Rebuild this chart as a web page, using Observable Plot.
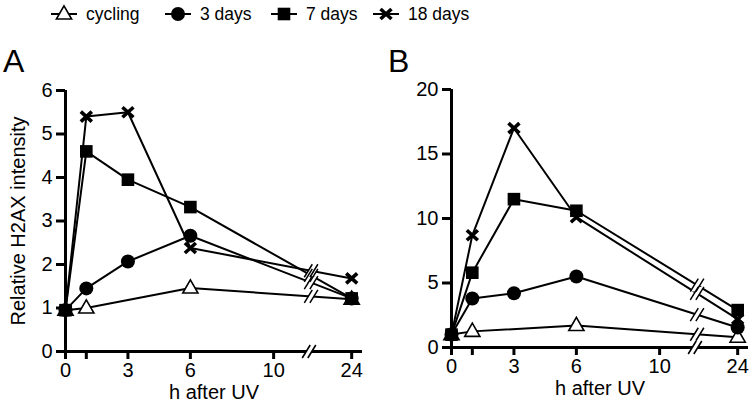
<!DOCTYPE html>
<html><head><meta charset="utf-8">
<script src="https://cdn.jsdelivr.net/npm/d3@7"></script>
<script src="https://cdn.jsdelivr.net/npm/@observablehq/plot@0.6"></script>
<style>
body{margin:0;background:#fff;font-family:"Liberation Sans",Arial,Helvetica,sans-serif;color:#000;}
#wrap{position:relative;width:752px;height:414px;overflow:hidden;background:#fff;}
.panel{position:absolute;top:30px;}
.letter{position:absolute;font-size:32px;line-height:1;}
.leg{position:absolute;top:3px;display:flex;align-items:center;font-size:17.5px;white-space:nowrap;}
.leg svg{margin-right:8px;}
</style></head><body><div id="wrap"></div>
<script>
// ---- data ----
const hours = [0, 1, 3, 6, 24];
const seriesNames = ["cycling", "3 days", "7 days", "18 days"];

const cyclingA = [0.95, 1.0, null, 1.46, 1.2];
const days3A   = [0.95, 1.45, 2.07, 2.66, 1.22];
const days7A   = [0.95, 4.6, 3.95, 3.32, 1.22];
const days18A  = [0.95, 5.4, 5.5, 2.38, 1.68];

const cyclingB = [1.0, 1.25, null, 1.7, 0.8];
const days3B   = [1.0, 3.8, 4.2, 5.5, 1.55];
const days7B   = [1.0, 5.8, 11.5, 10.6, 2.9];
const days18B  = [1.0, 8.7, 17.0, 10.1, 2.2];

const xTicks = [0, 1, 3, 6, 10, 24];
const xTickLabels = ["0", "", "3", "6", "10", "24"];
const yTicksA = [0, 1, 2, 3, 4, 5, 6];
const yTicksB = [0, 5, 10, 15, 20];

// ---- broken x axis: 0..12 linear, then 24 placed after the break ----
const BREAK_AT = 11.8;
const pos = h => (h <= 12 ? h : 13.75);

// ---- symbols ----
const symTri = {draw(c){ c.moveTo(0,-8.2); c.lineTo(7.6,5); c.lineTo(-7.6,5); c.closePath(); }};
const symX = {draw(c){ c.moveTo(-5.5,-5); c.lineTo(5.5,5); c.moveTo(5.5,-5); c.lineTo(-5.5,5); }};
const symSq = {draw(c){ c.rect(-6.3,-6.3,12.6,12.6); }};
const symCirc = {draw(c){ c.moveTo(7,0); c.arc(0,0,7,0,2*Math.PI); }};
const brkFill = {draw(c){ c.moveTo(-6.8,6.5); c.lineTo(1.2,-6.5); c.lineTo(6.8,-6.5); c.lineTo(-1.2,6.5); c.closePath(); }};
const brkLines = {draw(c){ c.moveTo(-6.8,6.5); c.lineTo(1.2,-6.5); c.moveTo(-1.2,6.5); c.lineTo(6.8,-6.5); }};

const styles = {
  "cycling": {symbol: symTri, fill: "white", stroke: "black", strokeWidth: 1.6},
  "3 days":  {symbol: symCirc, fill: "black", stroke: "none"},
  "7 days":  {symbol: symSq, fill: "black", stroke: "none"},
  "18 days": {symbol: symX, fill: "none", stroke: "black", strokeWidth: 3.6}
};

function rowsFor(arrs) {
  const rows = [];
  arrs.forEach((arr, si) => arr.forEach((v, i) => {
    if (v != null) rows.push({series: seriesNames[si], h: hours[i], x: pos(hours[i]), y: v});
  }));
  return rows;
}
function breaksFor(rows) {
  const out = [];
  for (const s of seriesNames) {
    const a = rows.find(r => r.series === s && r.h === 6);
    const b = rows.find(r => r.series === s && r.h === 24);
    if (a && b) out.push({x: BREAK_AT, y: a.y + (b.y - a.y) * (BREAK_AT - a.x) / (b.x - a.x)});
  }
  return out;
}

function panel({arrs, yTicks, yMax, ml, mr, mt, mb, yLabel}) {
  const rows = rowsFor(arrs);
  const brks = breaksFor(rows);
  const tickPos = xTicks.map(pos);
  const drawOrder = ["cycling", "18 days", "3 days", "7 days"];
  return Plot.plot({
    width: 376, height: 384,
    marginLeft: ml, marginRight: mr, marginTop: mt, marginBottom: mb,
    x: {type: "linear", domain: [0, 14.27]},
    y: {type: "linear", domain: [0, yMax]},
    style: {fontFamily: '"Liberation Sans", Arial, sans-serif', fontSize: "20px", color: "black", background: "white", overflow: "visible"},
    marks: [
      Plot.ruleY([0], {strokeWidth: 3}),
      Plot.ruleX([0], {strokeWidth: 3}),
      Plot.axisX({ticks: tickPos, tickFormat: d => xTickLabels[tickPos.indexOf(d)], tickSize: 8, tickPadding: 3, strokeWidth: 3, fontSize: 20,
        label: "h after UV", labelAnchor: "center", labelArrow: "none", labelOffset: 47}),
      Plot.axisY({ticks: yTicks, tickFormat: d => String(d), tickSize: 9, tickPadding: 4, strokeWidth: 3, fontSize: 20,
        label: yLabel, labelAnchor: "center", labelArrow: "none", labelOffset: 55}),
      // x-axis break
      Plot.dot([{x: 11.7, y: 0}], {x: "x", y: "y", r: 5, symbol: brkFill, fill: "white", stroke: "none"}),
      Plot.dot([{x: 11.7, y: 0}], {x: "x", y: "y", r: 5, symbol: brkLines, fill: "none", stroke: "black", strokeWidth: 1.6}),
      Plot.line(rows, {x: "x", y: "y", z: "series", stroke: "black", strokeWidth: 2}),
      Plot.dot(brks, {x: "x", y: "y", r: 5, symbol: brkFill, fill: "white", stroke: "none"}),
      Plot.dot(brks, {x: "x", y: "y", r: 5, symbol: brkLines, fill: "none", stroke: "black", strokeWidth: 1.5}),
      ...drawOrder.map(s => Plot.dot(rows.filter(r => r.series === s), {x: "x", y: "y", r: 6, ...styles[s]}))
    ]
  });
}

const wrap = document.getElementById("wrap");

const pA = panel({arrs: [cyclingA, days3A, days7A, days18A], yTicks: yTicksA, yMax: 6,
  ml: 65, mr: 14, mt: 60, mb: 63, yLabel: "Relative H2AX intensity"});
pA.classList.add("panel"); pA.style.left = "0px"; wrap.appendChild(pA);

const pB = panel({arrs: [cyclingB, days3B, days7B, days18B], yTicks: yTicksB, yMax: 20,
  ml: 75, mr: 4, mt: 59, mb: 67, yLabel: null});
pB.classList.add("panel"); pB.style.left = "376px"; wrap.appendChild(pB);

// panel letters
[["A", 3], ["B", 388]].forEach(([t, l]) => {
  const d = document.createElement("div");
  d.className = "letter"; d.textContent = t; d.style.left = l + "px"; d.style.top = "45px";
  wrap.appendChild(d);
});

// legend
const legLeft = [50, 164, 270, 372];
seriesNames.forEach((s, i) => {
  const item = document.createElement("div");
  item.className = "leg"; item.style.left = legLeft[i] + "px";
  const svg = d3.create("svg").attr("width", 28).attr("height", 22);
  svg.append("line").attr("x1", 1).attr("x2", 27).attr("y1", 11).attr("y2", 11).attr("stroke", "black").attr("stroke-width", 2);
  const st = styles[s];
  svg.append("path").attr("transform", "translate(14,11)")
    .attr("d", d3.symbol().type(st.symbol)())
    .attr("fill", st.fill).attr("stroke", st.stroke).attr("stroke-width", st.strokeWidth || 0);
  item.appendChild(svg.node());
  const sp = document.createElement("span"); sp.textContent = s; item.appendChild(sp);
  wrap.appendChild(item);
});
</script></body></html>
